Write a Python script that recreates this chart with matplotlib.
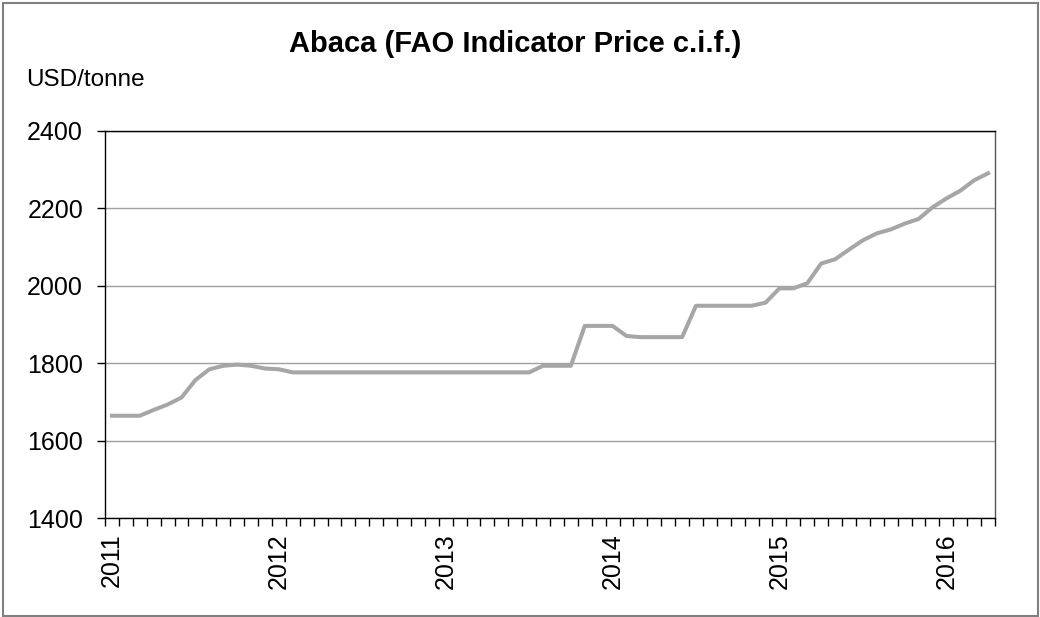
import matplotlib
matplotlib.use("Agg")
import matplotlib.pyplot as plt
from matplotlib.patches import Rectangle
from matplotlib.ticker import FixedLocator

plt.rcParams['font.family'] = ['Liberation Sans', 'DejaVu Sans']

# Monthly, Jan 2011 - Apr 2016
prices = [1664, 1664, 1664, 1679, 1693, 1711, 1756, 1784, 1793, 1796, 1793, 1786,
          1784, 1776, 1776, 1776, 1776, 1776, 1776, 1776, 1776, 1776, 1776, 1776,
          1776, 1776, 1776, 1776, 1776, 1776, 1776, 1793, 1793, 1793, 1896, 1896,
          1896, 1870, 1867, 1867, 1867, 1867, 1948, 1948, 1948, 1948, 1948, 1956,
          1993, 1993, 2006, 2057, 2068, 2093, 2117, 2135, 2145, 2160, 2172, 2202,
          2225, 2245, 2272, 2290]
year_labels = ['2011', '2012', '2013', '2014', '2015', '2016']
y_ticks = [1400, 1600, 1800, 2000, 2200, 2400]
title = 'Abaca (FAO Indicator Price c.i.f.)'
unit = 'USD/tonne'

fig = plt.figure(figsize=(10.4, 6.17), dpi=100)
ax = fig.add_axes([105/1040, 1 - 518/617, (995-105)/1040, (518-130.7)/617])

x = list(range(len(prices)))
ax.plot(x, prices, color='#a6a6a6', lw=2.9, solid_joinstyle='round', zorder=3)

ax.set_xlim(-0.5, len(prices) - 0.5)
ax.set_ylim(y_ticks[0], y_ticks[-1])
ax.set_yticks(y_ticks)
ax.yaxis.grid(True, color='#a0a0a0', lw=1)
ax.set_axisbelow(True)

ax.set_xticks([12 * i for i in range(len(year_labels))])
ax.set_xticklabels(year_labels, rotation=90, va='top', ha='center')
ax.xaxis.set_minor_locator(FixedLocator([i - 0.5 for i in range(len(prices) + 1)]))
ax.tick_params(axis='x', which='major', length=0, pad=11, labelsize=18)
ax.tick_params(axis='x', which='minor', length=5.8, width=1, color='black', direction='out')
ax.tick_params(axis='y', length=5.8, width=1, pad=10, labelsize=18, direction='out')

for s in ax.spines.values():
    s.set_color('black')
    s.set_linewidth(1)
ax.spines['right'].set_color('#555555')

fig.text(515/1040, 1 - 44/617, title, ha='center', va='center',
         fontsize=21, fontweight='bold')
fig.text(26/1040, 1 - 80/617, unit, ha='left', va='center', fontsize=17.5)

fig.patches.append(Rectangle((2.5/1040, 1.5/617), 1035/1040, 613/617,
                             transform=fig.transFigure, fill=False,
                             edgecolor='#808080', lw=1.5))

fig.savefig('out.png', dpi=100)
